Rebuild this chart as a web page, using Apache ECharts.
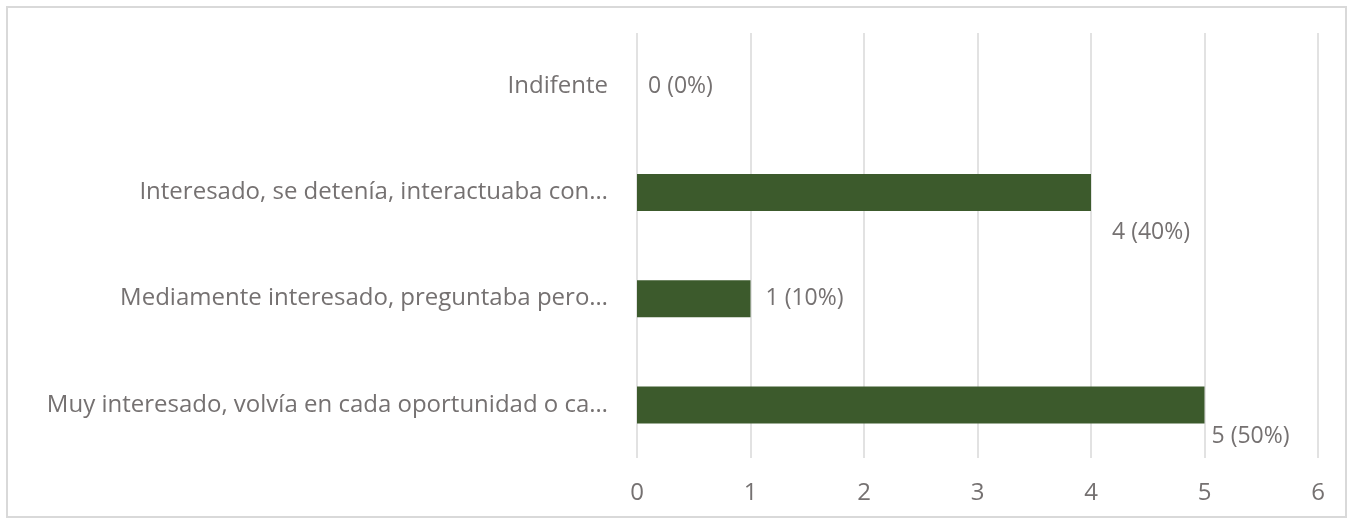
<!DOCTYPE html>
<html>
<head>
<meta charset="utf-8">
<script src="https://cdn.jsdelivr.net/npm/echarts@6/dist/echarts.min.js"></script>
<style>
  html, body { margin: 0; padding: 0; background: #fff; }
  #frame {
    position: absolute; left: 6px; top: 6px; width: 1341px; height: 512px;
    border: 2px solid #d9d9d9; box-sizing: border-box;
  }
  #chart { position: absolute; left: 0; top: 0; width: 1355px; height: 525px; }
</style>
</head>
<body>
<div id="frame"></div>
<div id="chart"></div>
<script>
// categories, top to bottom
const categories = [
  'Indifente',
  'Interesado, se detenía, interactuaba con…',
  'Mediamente interesado, preguntaba pero…',
  'Muy interesado, volvía en cada oportunidad o ca…'
]
const counts = [0, 4, 1, 5]
const percents = [0, 40, 10, 50]
const xTicks = [0, 1, 2, 3, 4, 5, 6]

// label nudges (Excel placed some labels below the bar end)
const labelOffsets = [[3, 0], [13, 40], [7, 0], [-1, 32]]

const textColor = '#757171'
const chart = echarts.init(document.getElementById('chart'))

chart.setOption({
  backgroundColor: 'transparent',
  animation: false,
  grid: { left: 637, right: 37, top: 33, bottom: 67 },
  xAxis: {
    type: 'value',
    min: xTicks[0],
    max: xTicks[xTicks.length - 1],
    interval: 1,
    axisLine: { show: false },
    axisTick: { show: false },
    axisLabel: { color: textColor, fontSize: 24, fontFamily: 'Open Sans', margin: 23 },
    splitLine: { lineStyle: { color: '#d9d9d9', width: 1.5 } }
  },
  yAxis: {
    type: 'category',
    inverse: true,
    data: categories,
    axisLine: { show: false },
    axisTick: { show: false },
    axisLabel: { color: textColor, fontSize: 24, fontFamily: 'Open Sans', margin: 29 }
  },
  series: [{
    type: 'bar',
    barWidth: 37,
    itemStyle: { color: '#3c5a2c' },
    data: counts.map((v, i) => ({
      value: v,
      label: { offset: labelOffsets[i] }
    })),
    label: {
      show: true,
      position: 'right',
      distance: 8,
      color: textColor,
      fontSize: 23,
      fontFamily: 'Open Sans',
      formatter: p => `${counts[p.dataIndex]} (${percents[p.dataIndex]}%)`
    }
  }]
})
</script>
</body>
</html>
